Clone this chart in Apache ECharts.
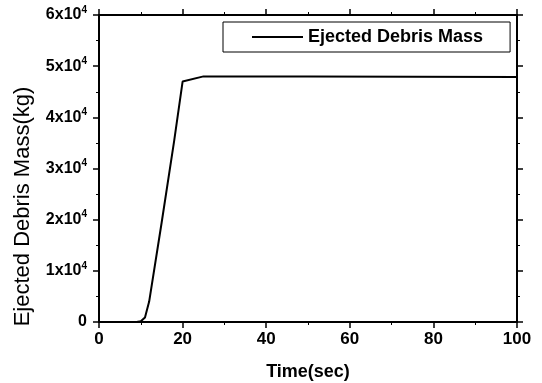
<!DOCTYPE html>
<html>
<head>
<meta charset="utf-8">
<script src="https://cdn.jsdelivr.net/npm/echarts@6/dist/echarts.min.js"></script>
<style>
  html, body { margin: 0; padding: 0; background: #fff; }
  #chart { width: 542px; height: 383px; }
</style>
</head>
<body>
<div id="chart"></div>
<script>
// data
var times = [0, 9, 10, 11, 12, 15, 18, 20, 25, 50, 75, 100];
var mass = [0, 0, 150, 900, 4000, 19500, 35500, 47000, 48000, 48000, 47950, 47900];
var xTicks = [0, 20, 40, 60, 80, 100];
var yTicks = [0, 10000, 20000, 30000, 40000, 50000, 60000];

var points = times.map(function (t, i) { return [t, mass[i]]; });

var font = 'Liberation Sans, Arial, sans-serif';

function yLabel(v) {
  if (v === 0) return '0';
  return (v / 10000) + 'x10{sup|4}';
}

var chart = echarts.init(document.getElementById('chart'));

var tickStyle = { show: true, inside: false, length: 6, lineStyle: { color: '#000', width: 1.5 } };
var minorStyle = { show: true, splitNumber: 2, length: 3, lineStyle: { color: '#000', width: 1 } };
var lineStyle = { show: true, onZero: false, lineStyle: { color: '#000', width: 2 } };

var option = {
  animation: false,
  backgroundColor: '#fff',
  grid: { left: 99, right: 25, top: 15, bottom: 61, containLabel: false, outerBoundsMode: 'none' },
  legend: {
    data: ['Ejected Debris Mass'],
    left: 223,
    top: 22,
    orient: 'horizontal',
    itemWidth: 51,
    itemHeight: 2,
    itemGap: 0,
    padding: [6, 27, 6, 29],
    borderColor: '#000',
    borderWidth: 1,
    borderRadius: 0,
    icon: 'rect',
    textStyle: { fontFamily: font, fontSize: 18, fontWeight: 'bold', color: '#000', padding: [0, 0, 0, 0] }
  },
  xAxis: [
    {
      type: 'value', min: 0, max: 100, interval: 20,
      axisLine: lineStyle, axisTick: tickStyle, minorTick: minorStyle,
      splitLine: { show: false },
      axisLabel: { fontFamily: font, fontSize: 17, fontWeight: 'bold', color: '#000', margin: 9 },
      name: 'Time(sec)', nameLocation: 'middle', nameGap: 41,
      nameTextStyle: { fontFamily: font, fontSize: 18, fontWeight: 'bold', color: '#000' }
    },
    {
      type: 'value', min: 0, max: 100, interval: 20, position: 'top',
      axisLine: lineStyle, axisTick: tickStyle, minorTick: minorStyle,
      splitLine: { show: false }, axisLabel: { show: false }
    }
  ],
  yAxis: [
    {
      type: 'value', min: 0, max: 60000, interval: 10000,
      axisLine: lineStyle, axisTick: tickStyle, minorTick: minorStyle,
      splitLine: { show: false },
      axisLabel: {
        fontFamily: font, fontSize: 16, fontWeight: 'bold', color: '#000', margin: 12,
        formatter: yLabel,
        rich: {
          sup: { fontFamily: font, fontSize: 10, fontWeight: 'bold', color: '#000', verticalAlign: 'bottom', padding: [0, 0, 10, 0] }
        }
      },
      name: 'Ejected Debris Mass(kg)', nameLocation: 'middle', nameGap: 65, nameRotate: 90,
      nameTextStyle: { fontFamily: font, fontSize: 22, color: '#000', padding: [0, 76, 0, 0] }
    },
    {
      type: 'value', min: 0, max: 60000, interval: 10000, position: 'right',
      axisLine: lineStyle, axisTick: tickStyle, minorTick: minorStyle,
      splitLine: { show: false }, axisLabel: { show: false }
    }
  ],
  series: [
    {
      name: 'Ejected Debris Mass',
      type: 'line',
      data: points,
      showSymbol: false,
      symbol: 'none',
      lineStyle: { color: '#000', width: 2 },
      itemStyle: { color: '#000' }
    }
  ]
};

chart.setOption(option);
</script>
</body>
</html>
